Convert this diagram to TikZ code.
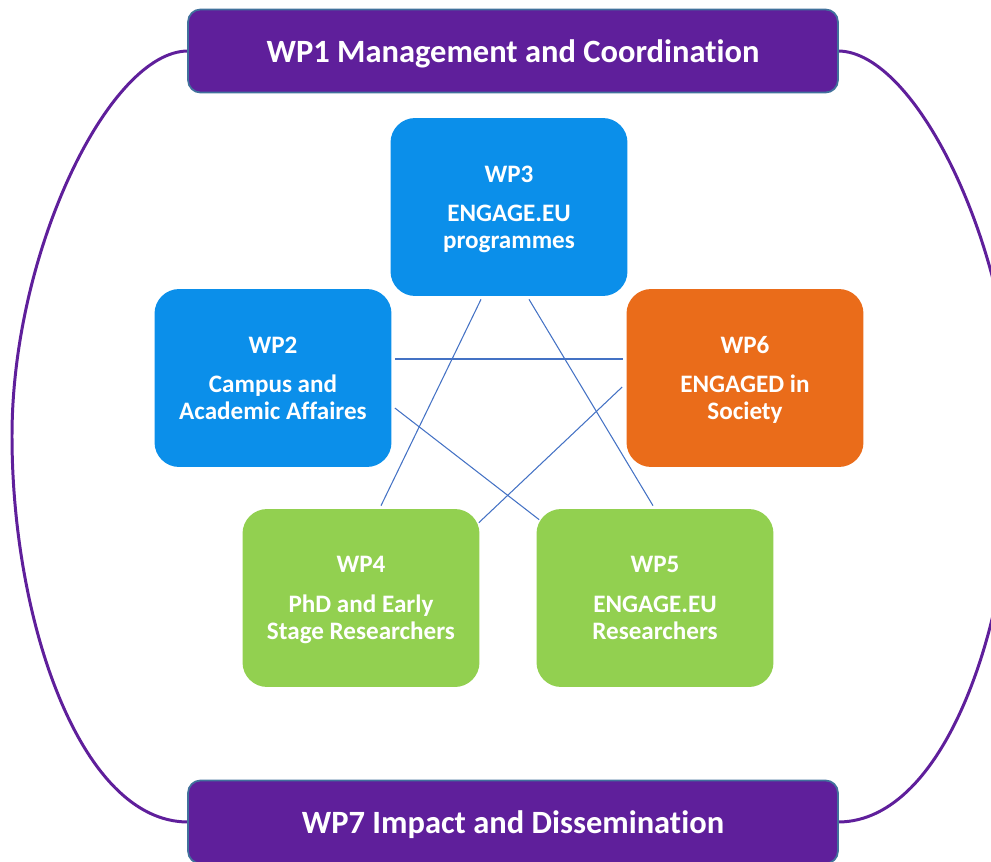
\documentclass[tikz,border=0pt]{standalone}
\usepackage{fontspec}
\setmainfont{Carlito}[Ligatures=NoCommon]
\usepackage{xcolor}
\definecolor{wppurple}{HTML}{5F1F9B}
\definecolor{wpedge}{HTML}{41719C}
\definecolor{wpblue}{HTML}{0B8FEA}
\definecolor{wporange}{HTML}{EA6C1A}
\definecolor{wpgreen}{HTML}{92D050}
\definecolor{wpline}{HTML}{4472C4}

\begin{document}
\begin{tikzpicture}[x=0.02cm,y=-0.02cm,
  bar/.style = {draw=wpedge, line width=1pt, fill=wppurple, rounded corners=7pt,
    minimum width=13cm, minimum height=1.66cm, text=white, text depth=0pt,
    font=\fontsize{18.5}{22}\selectfont\bfseries},
  wpbox/.style = {rounded corners=14pt, minimum width=4.74cm, minimum height=3.56cm,
    text=white, align=center, text depth=0pt,
    font=\fontsize{14.3}{15.4}\selectfont\bfseries},
  link/.style = {draw=wpline, line width=0.6pt},
  ring/.style = {draw=wppurple, line width=1.7pt}]
\clip (0,0) rectangle (991,862);
\node[wpbox, fill=wpblue] (wp3) at (509,207) {WP3\\[7pt]ENGAGE.EU\\programmes};
\node[wpbox, fill=wpblue] (wp2) at (273,378) {WP2\\[7pt]Campus and\\Academic Affaires};
\node[wpbox, fill=wporange] (wp6) at (745,378) {WP6\\[7pt]ENGAGED in\\Society};
\node[wpbox, fill=wpgreen] (wp4) at (361,598) {WP4\\[7pt]PhD and Early\\Stage Researchers};
\node[wpbox, fill=wpgreen] (wp5) at (655,598) {WP5\\[7pt]ENGAGE.EU\\Researchers};
% star of links
\draw[link] ([shift={(3,-19)}]wp2.east) -- ([shift={(-3,-19)}]wp6.west);
\draw[link] ([shift={(3,30)}]wp2.east) -- ([shift={(3,11)}]wp5.north west);
\draw[link] ([shift={(-28,3)}]wp3.south) -- ([shift={(20,-3)}]wp4.north);
\draw[link] ([shift={(20,3)}]wp3.south) -- ([shift={(-2,-3)}]wp5.north);
\draw[link] ([shift={(-4,9)}]wp6.west) -- ([shift={(-1,14)}]wp4.north east);
% outer ring
\coordinate (w1) at (188,51);
\coordinate (w7) at (188,822);
\coordinate (e1) at (838,51);
\coordinate (e7) at (838,822);
\draw[ring] (w1) .. controls (110,51) and (12,250) .. (12,436)
  .. controls (12,620) and (80,822) .. (w7);
\draw[ring] (e1) .. controls (916,51) and (1014,250) .. (1014,436)
  .. controls (1014,620) and (946,822) .. (e7);
\node[bar] (wp1) at (513,51) {WP1 Management and Coordination};
\node[bar] (wp7) at (513,822) {WP7 Impact and Dissemination};
\end{tikzpicture}
\end{document}
